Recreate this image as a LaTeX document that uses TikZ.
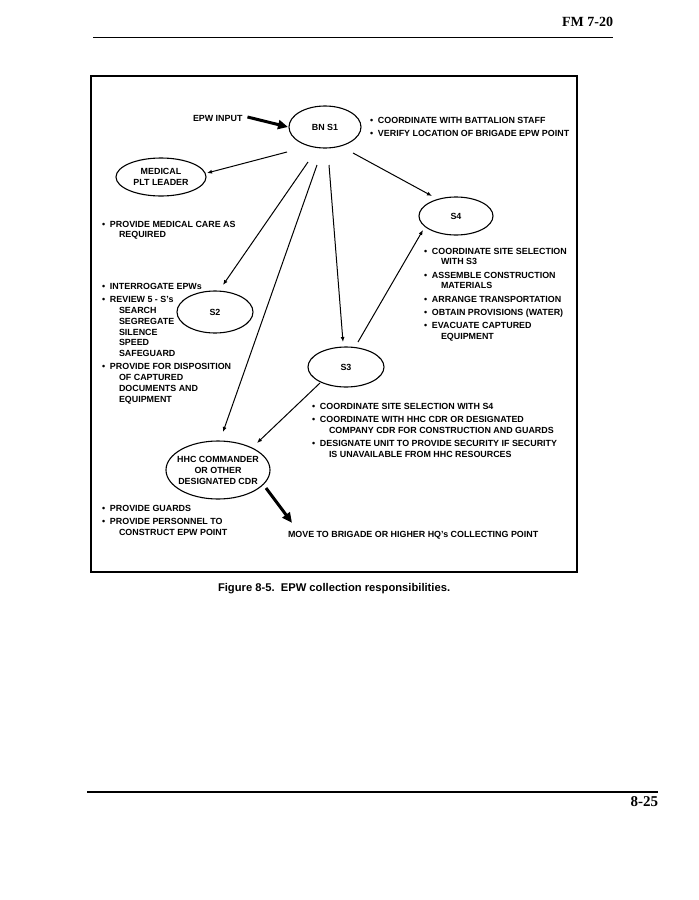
\documentclass[tikz,border=0pt]{standalone}
\usepackage{fontspec}
\setmainfont{Liberation Sans}
\newfontfamily\serifbf{Liberation Serif}
\usetikzlibrary{arrows.meta,calc,shapes.geometric}

\newcommand\bul[1]{\hbox{\makebox[8pt][l]{\textbullet}#1}}
\newcommand\cont[1]{\hbox{\hspace{17pt}#1}}
\newcommand\gap{\vskip2.4pt}

\begin{document}
\begin{tikzpicture}[x=1pt,y=-1pt,
  every node/.style={inner sep=0pt, outer sep=0pt},
  txt/.style={font=\fontsize{8.9}{10.8}\selectfont\bfseries, anchor=base west},
  lbl/.style={font=\fontsize{8.9}{11}\selectfont\bfseries, align=center},
  oval/.style={draw, ellipse, line width=1.1pt},
  arr/.style={line width=1pt, -{Latex[length=5pt,width=4pt]}},
  fat/.style={line width=3pt, -{Triangle[length=10pt,width=9pt]}},
]
\useasboundingbox (0,0) rectangle (699,900);

% page furniture
\node[font=\fontsize{14}{14}\serifbf\bfseries, anchor=base east] (hdr) at (613,26) {FM 7-20};
\draw[line width=1pt] (93,37) -- (613,37);
\draw[line width=1.6pt] (87,792) -- (658,792);
\node[font=\fontsize{15}{15}\serifbf\bfseries, anchor=base east] (pg) at (658,806) {8-25};

% frame
\draw[line width=1.6pt] (91,76) rectangle (577,572);

% ellipses
\node[oval, minimum width=72pt, minimum height=42pt] (bns1) at (325,127) {};
\node[lbl] (bns1t) at (bns1) {BN S1};
\node[oval, minimum width=90pt, minimum height=38pt] (med) at (161,177) {};
\node[lbl] (medt) at (med) {MEDICAL\\PLT LEADER};
\node[oval, minimum width=74pt, minimum height=38pt] (s4) at (456,216) {};
\node[lbl] (s4t) at (s4) {S4};
\node[oval, minimum width=76pt, minimum height=42pt] (s2) at (215,312) {};
\node[lbl] (s2t) at (s2) {S2};
\node[oval, minimum width=76pt, minimum height=40pt] (s3) at (346,367) {};
\node[lbl] (s3t) at (s3) {S3};
\node[oval, minimum width=104pt, minimum height=58pt] (hhc) at (218,470) {};
\node[lbl] (hhct) at (hhc) {HHC COMMANDER\\OR OTHER\\DESIGNATED CDR};

% texts
\node[txt] (epw) at (193,121) {EPW INPUT};
\node[txt] (bnst) at (370,123.5) {\vtop{\bul{COORDINATE WITH BATTALION STAFF}\gap\bul{VERIFY LOCATION OF BRIGADE EPW POINT}}};
\node[txt] (medtx) at (102,227) {\vtop{\bul{PROVIDE MEDICAL CARE AS}\cont{REQUIRED}}};
\node[txt] (s2tx) at (102,289.5) {\vtop{\bul{INTERROGATE EPWs}\gap\bul{REVIEW 5 - S’s}\cont{SEARCH}\cont{SEGREGATE}\cont{SILENCE}\cont{SPEED}\cont{SAFEGUARD}\gap\bul{PROVIDE FOR DISPOSITION}\cont{OF CAPTURED}\cont{DOCUMENTS AND}\cont{EQUIPMENT}}};
\node[txt] (s4tx) at (424,254) {\vtop{\bul{COORDINATE SITE SELECTION}\cont{WITH S3}\gap\bul{ASSEMBLE CONSTRUCTION}\cont{MATERIALS}\gap\bul{ARRANGE TRANSPORTATION}\gap\bul{OBTAIN PROVISIONS (WATER)}\gap\bul{EVACUATE CAPTURED}\cont{EQUIPMENT}}};
\node[txt] (s3tx) at (312,409) {\vtop{\bul{COORDINATE SITE SELECTION WITH S4}\gap\bul{COORDINATE WITH HHC CDR OR DESIGNATED}\cont{COMPANY CDR FOR CONSTRUCTION AND GUARDS}\gap\bul{DESIGNATE UNIT TO PROVIDE SECURITY IF SECURITY}\cont{IS UNAVAILABLE FROM HHC RESOURCES}}};
\node[txt] (hhctx) at (102,511) {\vtop{\bul{PROVIDE GUARDS}\gap\bul{PROVIDE PERSONNEL TO}\cont{CONSTRUCT EPW POINT}}};
\node[txt] (move) at (288,537) {MOVE TO BRIGADE OR HIGHER HQ’s COLLECTING POINT};

% caption
\node[font=\fontsize{11.2}{12}\selectfont\bfseries, anchor=base west] (cap) at (218,591) {Figure 8-5.\ \ EPW collection responsibilities.};

% connectors
\draw[fat] ($(epw.east)+(5,-1)$) -- ($(bns1.west)+(-1,0)$);
\draw[arr] ($(bns1)+(-38,25)$) -- ($(med)+(46,-4)$);
\draw[arr] ($(bns1)+(28,26)$) -- ($(s4)+(-24,-20)$);
\draw[arr] ($(bns1)+(-17,35)$) -- ($(s2)+(8,-27)$);
\draw[arr] ($(bns1)+(-8,38)$) -- ($(hhc)+(5,-38)$);
\draw[arr] ($(bns1)+(4,38)$) -- ($(s3)+(-3,-25)$);
\draw[arr] ($(s3)+(12,-25)$) -- ($(s4)+(-33,14)$);
\draw[arr] ($(s3)+(-26,16)$) -- ($(hhc)+(39,-27)$);
\draw[fat] ($(hhc)+(48,18)$) -- ($(move.north west)+(4,-8)$);
\end{tikzpicture}
\end{document}
